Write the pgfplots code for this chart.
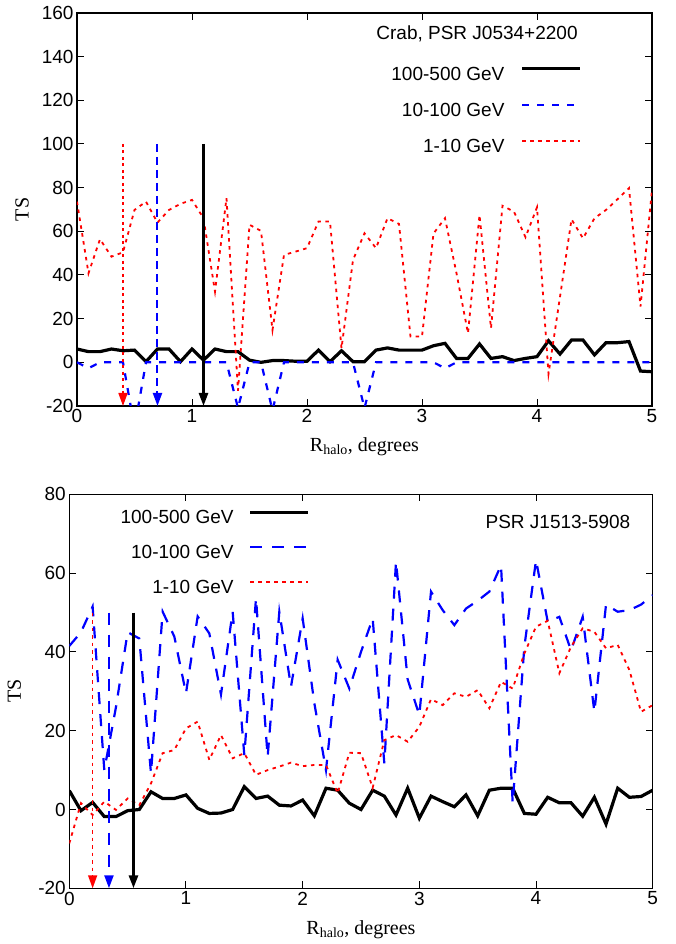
\documentclass[border=0pt]{standalone}
\usepackage{fontspec}
\setmainfont{Liberation Serif}
\newfontfamily\arial{Liberation Sans}
\usepackage{pgfplots}
\pgfplotsset{compat=1.18}
\usetikzlibrary{arrows.meta}

\pgfplotsset{
  halo/.style={
    scale only axis, xmin=0, xmax=5, xtick={0,1,2,3,4,5},
    tick align=inside, major tick length=7pt,
    axis line style={line width=1.2pt},
    every tick/.style={black, line width=1pt},
    tick label style={font=\arial\fontsize{19}{22}\selectfont},
    /pgf/number format/assume math mode=true,
    label style={font=\fontsize{20}{24}\selectfont},
    xlabel={R\textsubscript{halo}, degrees},
    ylabel={TS},
    xlabel style={at={([yshift=-41pt]axis description cs:0.5,0)}, anchor=center},
    ylabel style={at={([xshift=-55pt]axis description cs:0,0.5)}, anchor=center},
    legend plot pos=right, legend cell align=right,
    legend image code/.code={\draw[##1] (0pt,6.5pt) -- (58pt,6.5pt);},
    legend style={draw=none, fill=none, inner sep=0pt, anchor=north east,
      font=\arial\fontsize{19}{22}\selectfont,
      nodes={inner sep=0pt, text height=14pt, text depth=4pt}},
  },
  hard/.style={black, line width=3.2pt},
  mid/.style={blue, line width=2.2pt, dash pattern=on 7pt off 8pt},
  midb/.style={blue, line width=2.2pt, dash pattern=on 12pt off 10pt},
  soft/.style={red, line width=1.8pt, dash pattern=on 3.5pt off 4.5pt},
  tip/.style={-{Triangle[width=9pt,length=13pt]}},
}

\begin{document}
\begin{tikzpicture}
\path[use as bounding box] (-77pt,406pt) rectangle (598pt,-538pt);

% Crab
\begin{axis}[halo, width=575pt, height=393pt, at={(0pt,0pt)}, anchor=south west,
  ymin=-20, ymax=160, ytick={-20,0,...,160},
  legend style={at={(rel axis cs:0.878,0.865)}, row sep=18pt, column sep=16pt}]
\addplot[hard] coordinates {
(0,6.1) (0.1,4.9) (0.2,4.9) (0.3,6.1) (0.4,5.3) (0.5,5.6) (0.6,0.3) (0.7,6.1) (0.8,6.1) (0.9,0.3)
(1.0,6.1) (1.1,1.0) (1.2,6.1) (1.3,4.9) (1.4,4.9) (1.5,1.0) (1.6,0.0) (1.7,0.8) (1.8,0.8) (1.9,0.5)
(2.0,0.5) (2.1,5.6) (2.2,0.3) (2.3,5.3) (2.4,0.3) (2.5,0.3) (2.6,5.6) (2.7,6.6) (2.8,5.6) (2.9,5.6)
(3.0,5.6) (3.1,7.6) (3.2,8.7) (3.3,1.8) (3.4,1.8) (3.5,8.4) (3.6,1.8) (3.7,2.6) (3.8,0.8) (3.9,1.8)
(4.0,2.6) (4.1,9.9) (4.2,3.8) (4.3,10.2) (4.4,10.2) (4.5,3.4) (4.6,9.0) (4.7,9.0) (4.8,9.5) (4.9,-4.0)
(5.0,-4.3)};
\addlegendentry{100-500 GeV}
\addplot[mid] coordinates {
(0,0) (0.1,-2.7) (0.2,0) (0.3,0) (0.4,0) (0.5,-30) (0.6,0) (0.7,0) (0.8,0) (0.9,0)
(1.0,0) (1.1,0) (1.2,0) (1.3,0) (1.4,-21) (1.5,0) (1.6,0) (1.7,-22) (1.8,0) (1.9,0)
(2.0,0) (2.1,0) (2.2,0) (2.3,0) (2.4,0) (2.5,-21) (2.6,0) (2.7,0) (2.8,0) (2.9,0)
(3.0,0) (3.1,0) (3.2,-2.7) (3.3,0) (3.4,0) (3.5,0) (3.6,0) (3.7,0) (3.8,0) (3.9,0)
(4.0,0) (4.1,0) (4.2,0) (4.3,0) (4.4,0) (4.5,0) (4.6,0) (4.7,0) (4.8,0) (4.9,0)
(5.0,0)};
\addlegendentry{10-100 GeV}
\addplot[soft] coordinates {
(0,73.6) (0.1,40.8) (0.2,56.4) (0.3,48.4) (0.4,50.4) (0.5,69.8) (0.6,73.6) (0.7,64) (0.8,69.8) (0.9,72.6)
(1.0,74.4) (1.1,66) (1.2,32.4) (1.3,75.2) (1.4,-13) (1.5,63) (1.6,60.2) (1.7,14.8) (1.8,49.2) (1.9,50.7)
(2.0,52.3) (2.1,64.5) (2.2,64.5) (2.3,6.4) (2.4,46.9) (2.5,59.1) (2.6,52.3) (2.7,66) (2.8,63.4) (2.9,11.8)
(3.0,11.8) (3.1,59) (3.2,66) (3.3,40.8) (3.4,13.3) (3.5,67.5) (3.6,15.6) (3.7,71.7) (3.8,69) (3.9,57.3)
(4.0,71) (4.1,-5.3) (4.2,30) (4.3,65.5) (4.4,56.8) (4.5,66) (4.6,69.8) (4.7,74.7) (4.8,79.8) (4.9,25.5)
(5.0,79)};
\addlegendentry{1-10 GeV}
% arrows
\addplot[red, line width=1.5pt, dash pattern=on 3pt off 3.5pt, tip, forget plot] coordinates {(0.4,100) (0.4,-20)};
\addplot[color=blue, line width=2pt, dash pattern=on 8pt off 5pt, tip, forget plot] coordinates {(0.7,100) (0.7,-20)};
\addplot[black, line width=2.6pt, tip, forget plot] coordinates {(1.1,100) (1.1,-20)};
\node[anchor=east, font=\arial\fontsize{19}{22}\selectfont, inner sep=0pt] at (rel axis cs:0.871,0.946) {Crab, PSR J0534+2200};
\end{axis}

% PSR J1513-5908
\begin{axis}[halo, width=583.4pt, height=394pt, at={(-7.7pt,-482.3pt)}, anchor=south west,
  ymin=-20, ymax=80, ytick={-20,0,...,80},
  legend style={at={(rel axis cs:0.4126,0.961)}, row sep=17pt, column sep=15pt}]
\addplot[hard] coordinates {
(0,4.8) (0.1,-0.3) (0.2,1.8) (0.3,-1.8) (0.4,-1.8) (0.5,-0.3) (0.6,0) (0.7,4.5) (0.8,2.8) (0.9,2.8)
(1.0,3.7) (1.1,0.3) (1.2,-1.0) (1.3,-0.9) (1.4,0) (1.5,5.8) (1.6,2.8) (1.7,3.4) (1.8,1.1) (1.9,0.9)
(2.0,2.4) (2.1,-1.6) (2.2,5.4) (2.3,4.9) (2.4,1.6) (2.5,0) (2.6,4.9) (2.7,3.4) (2.8,-1.4) (2.9,5.4)
(3.0,-2.2) (3.1,3.4) (3.2,2.0) (3.3,0.7) (3.4,3.7) (3.5,-1.6) (3.6,4.9) (3.7,5.4) (3.8,5.4) (3.9,-1.0)
(4.0,-1.2) (4.1,3.1) (4.2,1.7) (4.3,1.7) (4.4,-1.7) (4.5,3.1) (4.6,-3.7) (4.7,5.4) (4.8,3.1) (4.9,3.3)
(5.0,4.9)};
\addlegendentry{100-500 GeV}
\addplot[midb] coordinates {
(0,41.5) (0.1,45) (0.2,51.5) (0.3,10) (0.4,26) (0.5,45) (0.6,43.4) (0.7,9.2) (0.8,50.2) (0.9,43.9)
(1.0,29.5) (1.1,49) (1.2,44.7) (1.3,29.2) (1.4,50.2) (1.5,13.8) (1.6,53.6) (1.7,13.4) (1.8,50.2) (1.9,31.2)
(2.0,48.5) (2.1,27) (2.2,10) (2.3,38) (2.4,30.7) (2.5,40) (2.6,48.5) (2.7,11.7) (2.8,62.9) (2.9,33)
(3.0,24) (3.1,55.3) (3.2,50.6) (3.3,46.8) (3.4,51) (3.5,53) (3.6,55.3) (3.7,62) (3.8,1.6) (3.9,41.3)
(4.0,63.3) (4.1,47.7) (4.2,48.9) (4.3,40.4) (4.4,48.9) (4.5,24.8) (4.6,52) (4.7,50.2) (4.8,50.6) (4.9,52)
(5.0,54.4)};
\addlegendentry{10-100 GeV}
\addplot[soft] coordinates {
(0,-8.6) (0.1,1.6) (0.2,-1.4) (0.3,2.0) (0.4,-0.1) (0.5,2.8) (0.6,1.1) (0.7,6.6) (0.8,14.3) (0.9,15.1)
(1.0,20.6) (1.1,22.3) (1.2,12.6) (1.3,18.9) (1.4,13.0) (1.5,14.3) (1.6,8.8) (1.7,10.0) (1.8,10.9) (1.9,11.9)
(2.0,11.0) (2.1,11.3) (2.2,11.3) (2.3,4.1) (2.4,14.4) (2.5,14.3) (2.6,5.5) (2.7,17.6) (2.8,18.9) (2.9,17.2)
(3.0,21) (3.1,28) (3.2,26.5) (3.3,29.5) (3.4,28.6) (3.5,30.3) (3.6,25.7) (3.7,32.4) (3.8,30.7) (3.9,39.6)
(4.0,46.4) (4.1,47.9) (4.2,34.6) (4.3,41.3) (4.4,46.0) (4.5,45.1) (4.6,40.9) (4.7,41.8) (4.8,35.4) (4.9,24.8)
(5.0,26.5)};
\addlegendentry{1-10 GeV}
\addplot[red, line width=1.6pt, dash pattern=on 3.5pt off 4pt, tip, forget plot] coordinates {(0.2,50) (0.2,-20)};
\addplot[color=blue, line width=2.2pt, dash pattern=on 12pt off 10pt, tip, forget plot] coordinates {(0.34,50) (0.34,-20)};
\addplot[black, line width=2.8pt, tip, forget plot] coordinates {(0.55,50) (0.55,-20)};
\node[anchor=east, font=\arial\fontsize{19}{22}\selectfont, inner sep=0pt] at (rel axis cs:0.962,0.929) {PSR J1513-5908};
\end{axis}
\end{tikzpicture}
\end{document}
